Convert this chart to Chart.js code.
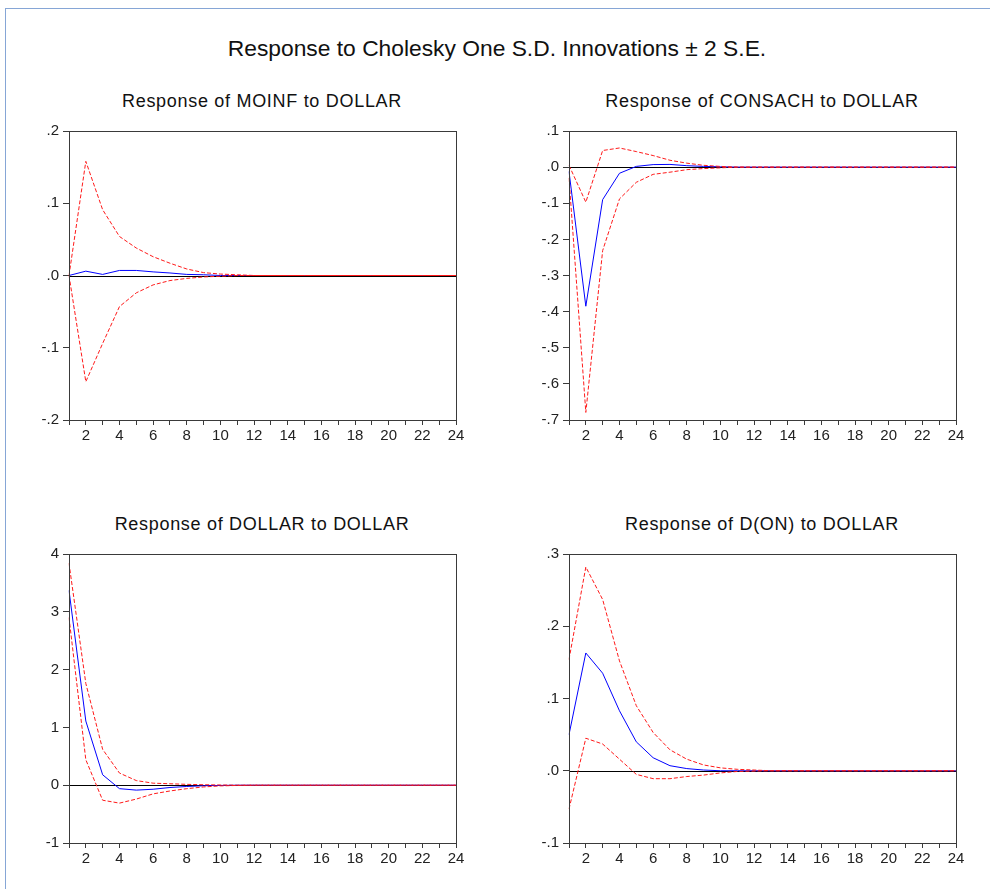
<!DOCTYPE html>
<html>
<head>
<meta charset="utf-8">
<script src="https://cdn.jsdelivr.net/npm/chart.js@4.4.1/dist/chart.umd.min.js"></script>
<style>
  body { margin: 0; background: #fff; width: 990px; height: 889px; overflow: hidden; position: relative; font-family: "Liberation Sans", Arial, sans-serif; }
  #frame { position: absolute; left: 5px; top: 8px; width: 1000px; height: 900px; border-left: 1px solid #86a6d6; border-top: 1px solid #86a6d6; }
  .ttl { position: absolute; text-align: center; color: #111; white-space: nowrap; }
  #main { left: 0; width: 994px; top: 36px; font-size: 22.8px; line-height: 24px; }
  .sub { font-size: 18px; line-height: 20px; letter-spacing: 0.7px; width: 400px; }
  canvas { position: absolute; }
</style>
</head>
<body>
<div id="frame"></div>
<div class="ttl" id="main">Response to Cholesky One S.D. Innovations ± 2 S.E.</div>
<div class="ttl sub" style="left:62px;top:91px">Response of MOINF to DOLLAR</div>
<div class="ttl sub" style="left:562px;top:91px">Response of CONSACH to DOLLAR</div>
<div class="ttl sub" style="left:62px;top:514px">Response of DOLLAR to DOLLAR</div>
<div class="ttl sub" style="left:562px;top:514px">Response of D(ON) to DOLLAR</div>

<canvas id="c1"></canvas>
<canvas id="c2"></canvas>
<canvas id="c3"></canvas>
<canvas id="c4"></canvas>

<script>
// periods
const periods = [1, 2, 3, 4, 5, 6, 7, 8, 9, 10, 11, 12, 13, 14, 15, 16, 17, 18, 19, 20, 21, 22, 23, 24];

// MOINF to DOLLAR
const moinfResp  = [0, 0.006, 0.0015, 0.007, 0.007, 0.005, 0.0035, 0.0015, 0.001, 0, 0, 0, 0, 0, 0, 0, 0, 0, 0, 0, 0, 0, 0, 0];
const moinfUpper = [0, 0.158, 0.091, 0.054, 0.038, 0.026, 0.017, 0.009, 0.004, 0.002, 0.001, 0, 0, 0, 0, 0, 0, 0, 0, 0, 0, 0, 0, 0];
const moinfLower = [0, -0.147, -0.094, -0.043, -0.024, -0.013, -0.007, -0.004, -0.002, -0.001, 0, 0, 0, 0, 0, 0, 0, 0, 0, 0, 0, 0, 0, 0];

// CONSACH to DOLLAR
const consResp  = [-0.012, -0.385, -0.090, -0.017, 0.002, 0.007, 0.0075, 0.004, 0.002, 0.001, 0, 0, 0, 0, 0, 0, 0, 0, 0, 0, 0, 0, 0, 0];
const consUpper = [0.005, -0.097, 0.046, 0.053, 0.043, 0.032, 0.019, 0.011, 0.005, 0.002, 0, 0, 0, 0, 0, 0, 0, 0, 0, 0, 0, 0, 0, 0];
const consLower = [-0.03, -0.679, -0.231, -0.088, -0.042, -0.020, -0.014, -0.007, -0.004, -0.002, 0, 0, 0, 0, 0, 0, 0, 0, 0, 0, 0, 0, 0, 0];

// DOLLAR to DOLLAR
const dolResp  = [3.37, 1.11, 0.18, -0.06, -0.085, -0.07, -0.04, -0.022, -0.01, -0.004, 0, 0, 0, 0, 0, 0, 0, 0, 0, 0, 0, 0, 0, 0];
const dolUpper = [3.84, 1.76, 0.62, 0.21, 0.08, 0.035, 0.025, 0.015, 0.008, 0.004, 0, 0, 0, 0, 0, 0, 0, 0, 0, 0, 0, 0, 0, 0];
const dolLower = [2.90, 0.44, -0.26, -0.31, -0.24, -0.15, -0.10, -0.06, -0.03, -0.012, -0.004, 0, 0, 0, 0, 0, 0, 0, 0, 0, 0, 0, 0, 0];

// D(ON) to DOLLAR
const donResp  = [0.050, 0.163, 0.135, 0.083, 0.040, 0.018, 0.007, 0.003, 0.001, 0, 0, 0, 0, 0, 0, 0, 0, 0, 0, 0, 0, 0, 0, 0];
const donUpper = [0.154, 0.282, 0.237, 0.152, 0.090, 0.053, 0.029, 0.016, 0.008, 0.004, 0.002, 0.001, 0, 0, 0, 0, 0, 0, 0, 0, 0, 0, 0, 0];
const donLower = [-0.053, 0.045, 0.037, 0.016, -0.005, -0.011, -0.011, -0.008, -0.006, -0.003, -0.001, -0.0005, 0, 0, 0, 0, 0, 0, 0, 0, 0, 0, 0, 0];

// eviews style labels: .2  -.1  .0
function evFmt(v) {
    return v.toFixed(1).replace(/^(-?)0\./, '$1.');
}
function intFmt(v) {
    return String(Math.round(v));
}

// frame box + zero line
const framePlugin = {
    id: 'frameBox',
    beforeDatasetsDraw(chart) {
        const a = chart.chartArea;
        const ctx = chart.ctx;
        const y0 = Math.round(chart.scales.y.getPixelForValue(0)) + 0.5;
        ctx.save();
        ctx.strokeStyle = '#000';
        ctx.lineWidth = 1;
        ctx.beginPath();
        ctx.moveTo(a.left, y0);
        ctx.lineTo(a.right, y0);
        ctx.stroke();
        ctx.restore();
    },
    afterDraw(chart) {
        const a = chart.chartArea;
        const ctx = chart.ctx;
        ctx.save();
        ctx.strokeStyle = '#3a3a3a';
        ctx.lineWidth = 1;
        ctx.strokeRect(Math.round(a.left) + 0.5, Math.round(a.top) + 0.5, Math.round(a.right - a.left), Math.round(a.bottom - a.top));
        ctx.restore();
    }
};

function makePanel(id, box, plot, resp, upper, lower, yMin, yMax, step, fmt) {
    const cv = document.getElementById(id);
    cv.style.left = box.x + 'px';
    cv.style.top = box.y + 'px';
    cv.width = box.w;
    cv.height = box.h;
    cv.style.width = box.w + 'px';
    cv.style.height = box.h + 'px';

    const yW = plot.left - box.x;
    const xH = box.y + box.h - plot.bottom;

    new Chart(cv, {
        type: 'line',
        data: {
            labels: periods,
            datasets: [{
                data: upper,
                borderColor: '#ff1a1a',
                borderWidth: 1,
                borderDash: [4, 2],
                pointRadius: 0,
                tension: 0
            }, {
                data: lower,
                borderColor: '#ff1a1a',
                borderWidth: 1,
                borderDash: [4, 2],
                pointRadius: 0,
                tension: 0
            }, {
                data: resp,
                borderColor: '#0000ff',
                borderWidth: 1,
                pointRadius: 0,
                tension: 0
            }]
        },
        options: {
            responsive: false,
            animation: false,
            layout: {
                padding: { left: 0, top: plot.top - box.y, right: box.x + box.w - plot.right, bottom: 0 }
            },
            plugins: { legend: { display: false }, tooltip: { enabled: false } },
            scales: {
                x: {
                    type: 'category',
                    offset: false,
                    border: { display: false },
                    grid: { drawOnChartArea: false, drawTicks: true, tickLength: 5, color: '#3a3a3a', offset: false },
                    ticks: {
                        autoSkip: false,
                        maxRotation: 0,
                        padding: 2,
                        color: '#222',
                        font: { family: '"Liberation Sans", Arial, sans-serif', size: 15 },
                        callback: function(val, i) { return periods[i] % 2 === 0 ? String(periods[i]) : ''; }
                    },
                    afterFit: function(s) { s.height = xH; }
                },
                y: {
                    min: yMin,
                    max: yMax,
                    border: { display: false },
                    grid: { drawOnChartArea: false, drawTicks: true, tickLength: 6, color: '#3a3a3a' },
                    ticks: {
                        stepSize: step,
                        padding: 4,
                        color: '#222',
                        font: { family: '"Liberation Sans", Arial, sans-serif', size: 15 },
                        callback: function(v) { return fmt(v); }
                    },
                    afterFit: function(s) { s.width = yW; }
                }
            }
        },
        plugins: [framePlugin]
    });
}

makePanel('c1', { x: 10, y: 116, w: 480, h: 340 }, { left: 69, top: 131, right: 456, bottom: 420 },
    moinfResp, moinfUpper, moinfLower, -0.2, 0.2, 0.1, evFmt);
makePanel('c2', { x: 510, y: 116, w: 480, h: 340 }, { left: 569, top: 131, right: 956, bottom: 420 },
    consResp, consUpper, consLower, -0.7, 0.1, 0.1, evFmt);
makePanel('c3', { x: 10, y: 540, w: 480, h: 340 }, { left: 69, top: 554, right: 456, bottom: 843 },
    dolResp, dolUpper, dolLower, -1, 4, 1, intFmt);
makePanel('c4', { x: 510, y: 540, w: 480, h: 340 }, { left: 569, top: 554, right: 956, bottom: 843 },
    donResp, donUpper, donLower, -0.1, 0.3, 0.1, evFmt);
</script>
</body>
</html>
